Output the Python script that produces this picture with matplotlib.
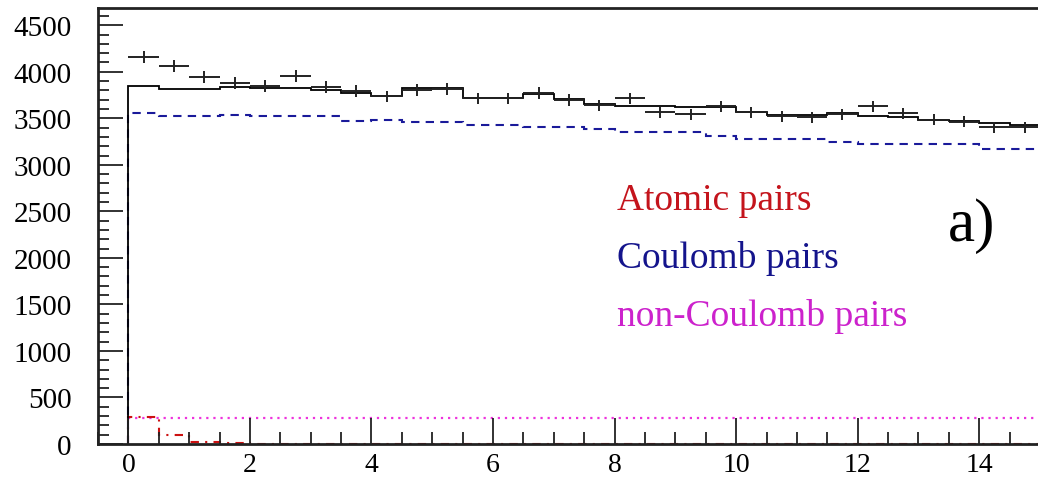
import numpy as np
import matplotlib
matplotlib.use("Agg")
import matplotlib.pyplot as plt
from matplotlib.ticker import MultipleLocator

# bin edges (0.5 wide, 0..15)
bin_edges = np.arange(0, 15.01, 0.5)
bin_centers = (bin_edges[:-1] + bin_edges[1:]) / 2

data_counts = [4157, 4060, 3942, 3878, 3845, 3953, 3835, 3795, 3735, 3805,
               3813, 3713, 3713, 3770, 3698, 3641, 3713, 3563, 3544, 3627,
               3563, 3520, 3509, 3544, 3627, 3555, 3484, 3462, 3401, 3401]
data_errors = [64, 64, 63, 62, 62, 63, 62, 62, 61, 62,
               62, 61, 61, 61, 61, 60, 61, 60, 60, 60,
               60, 59, 59, 60, 60, 60, 59, 59, 58, 58]

total_fit = [3849, 3813, 3813, 3831, 3828, 3825, 3800, 3777, 3741, 3820,
             3820, 3713, 3713, 3759, 3706, 3652, 3634, 3630, 3622, 3620,
             3563, 3534, 3540, 3560, 3527, 3509, 3484, 3466, 3445, 3426]
coulomb_pairs = [3552, 3520, 3520, 3537, 3527, 3527, 3520, 3473, 3480, 3455,
                 3455, 3430, 3430, 3408, 3408, 3383, 3355, 3355, 3350, 3311,
                 3276, 3276, 3276, 3240, 3222, 3222, 3222, 3222, 3169, 3169]
noncoulomb_pairs = [280] * 30
atomic_pairs = [290, 100, 25, 12, 5, 3, 0, 0, 0, 0,
                0, 0, 0, 0, 0, 0, 0, 0, 0, 0,
                0, 0, 0, 0, 0, 0, 0, 0, 0, 0]

legend_labels = ["Atomic pairs", "Coulomb pairs", "non-Coulomb pairs"]
legend_colors = ["#c4141c", "#14148c", "#cc22cc"]

fig = plt.figure(figsize=(10.38, 4.81), dpi=100)
ax = fig.add_axes([98 / 1038, 1 - 445 / 481, (1040 - 98) / 1038, (445 - 9) / 481])

ax.stairs(noncoulomb_pairs, bin_edges, baseline=None, color="#ee33dd", lw=1.6,
          linestyle=(0, (1, 2.2)))
ax.stairs(atomic_pairs, bin_edges, baseline=0, color="#cc1111", lw=1.5,
          linestyle=(0, (4, 3, 1, 3)))
ax.stairs(coulomb_pairs, bin_edges, baseline=0, color="#1a1a9a", lw=1.5,
          linestyle=(0, (4, 3)))
ax.stairs(total_fit, bin_edges, baseline=0, color="black", lw=1.3)
ax.errorbar(bin_centers, data_counts, yerr=data_errors, xerr=0.25, fmt="none",
            ecolor="#222222", elinewidth=1.4, capsize=0)

ax.set_xlim(-0.5, 15)
ax.set_ylim(0, 4685)
ax.xaxis.set_major_locator(MultipleLocator(2))
ax.xaxis.set_minor_locator(MultipleLocator(0.5))
ax.yaxis.set_major_locator(MultipleLocator(500))
ax.yaxis.set_minor_locator(MultipleLocator(100))

serif = "Liberation Serif"
ax.tick_params(axis="both", which="both", direction="in", top=False, right=False,
               width=1.3, color="#222222")
ax.tick_params(axis="y", which="major", length=18, pad=19, labelsize=21)
ax.tick_params(axis="y", which="minor", length=8)
ax.tick_params(axis="x", which="major", length=19, pad=6, labelsize=20)
ax.tick_params(axis="x", which="minor", length=9)
for lab in ax.get_xticklabels() + ax.get_yticklabels():
    lab.set_fontfamily(serif)

for s in ax.spines.values():
    s.set_linewidth(2)
    s.set_color("#222222")

ys = [201, 258, 317]
for lab, col, y in zip(legend_labels, legend_colors, ys):
    fig.text(617 / 1038, 1 - y / 481, lab, color=col, fontsize=27,
             family=serif, va="center", ha="left")

fig.text(948 / 1038, 1 - 226 / 481, "a)", color="black", fontsize=44,
         family=serif, va="center", ha="left")

fig.savefig("out.png", dpi=100)
